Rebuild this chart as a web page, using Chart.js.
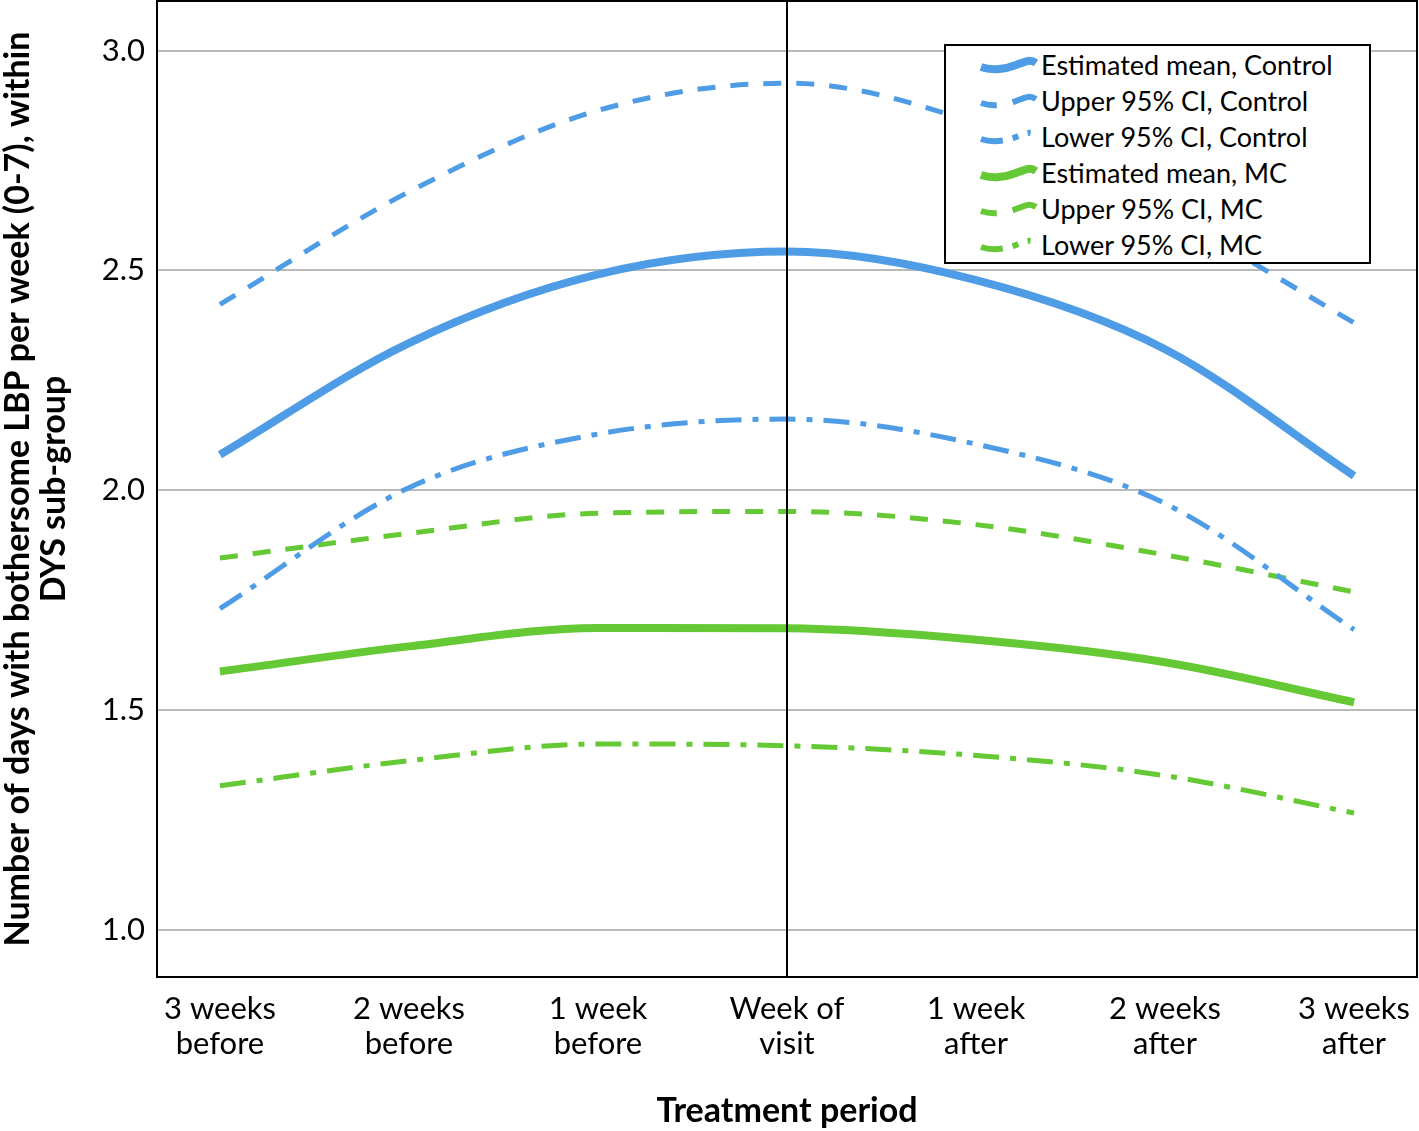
<!DOCTYPE html>
<html>
<head>
<meta charset="utf-8">
<script src="https://cdn.jsdelivr.net/npm/chart.js@4.4.1/dist/chart.umd.min.js"></script>
<style>
    html, body { margin: 0; padding: 0; background: #fff; }
    #wrap { position: relative; width: 1419px; height: 1131px; }
    #legend {
        position: absolute; left: 944px; top: 44px; width: 423px; height: 216px;
        border: 2px solid #000; background: #fff;
        font-family: Lato, "Open Sans", sans-serif; font-size: 27px; color: #000;
    }
    .legend-row { position: absolute; left: 0; height: 36px; display: flex; align-items: center; }
    .legend-row svg { margin-left: 32px; width: 62px; height: 24px; }
    .legend-row span { margin-left: 1px; white-space: nowrap; }
</style>
</head>
<body>
<div id="wrap">
    <canvas id="chart" width="1419" height="1131"></canvas>
    <div id="legend"></div>
</div>
<script>
// ---- data ----
const categories = [
    ['3 weeks', 'before'], ['2 weeks', 'before'], ['1 week', 'before'],
    ['Week of', 'visit'], ['1 week', 'after'], ['2 weeks', 'after'], ['3 weeks', 'after']
];
const yTicks = [1.0, 1.5, 2.0, 2.5, 3.0];
const visitIndex = 3;

const controlMean  = [2.081, 2.335, 2.491, 2.543, 2.478, 2.321, 2.033];
const controlUpper = [2.423, 2.679, 2.864, 2.926, 2.834, 2.631, 2.381];
const controlLower = [1.731, 2.006, 2.128, 2.162, 2.105, 1.970, 1.683];
const mcMean  = [1.588, 1.645, 1.687, 1.686, 1.660, 1.609, 1.518];
const mcUpper = [1.846, 1.902, 1.948, 1.952, 1.922, 1.853, 1.769];
const mcLower = [1.328, 1.385, 1.423, 1.419, 1.397, 1.351, 1.266];

const seriesLabels = [
    'Estimated mean, Control', 'Upper 95% CI, Control', 'Lower 95% CI, Control',
    'Estimated mean, MC', 'Upper 95% CI, MC', 'Lower 95% CI, MC'
];

const BLUE = '#4e9ce6';
const GREEN = '#64c934';
const DASH = [18, 15];
const DASHDOT = [26, 11, 6, 11];
const FONT = 'Lato, "Open Sans", sans-serif';

const toPoints = arr => arr.map((v, i) => ({ x: i, y: v }));

function makeSet(label, values, color, width, dash) {
    return {
        label: label,
        data: toPoints(values),
        borderColor: color,
        borderWidth: width,
        borderDash: dash,
        borderCapStyle: 'butt',
        pointRadius: 0,
        cubicInterpolationMode: 'monotone',
        fill: false
    };
}

const datasets = [
    makeSet(seriesLabels[0], controlMean, BLUE, 8, []),
    makeSet(seriesLabels[1], controlUpper, BLUE, 5, DASH),
    makeSet(seriesLabels[2], controlLower, BLUE, 5, DASHDOT),
    makeSet(seriesLabels[3], mcMean, GREEN, 8, []),
    makeSet(seriesLabels[4], mcUpper, GREEN, 5, DASH),
    makeSet(seriesLabels[5], mcLower, GREEN, 5, DASHDOT)
];

// frame round the plot + vertical line at the week of visit
const framePlugin = {
    id: 'frame',
    afterDatasetsDraw(chart) {
        const { ctx, chartArea, scales } = chart;
        const xv = scales.x.getPixelForValue(visitIndex);
        ctx.save();
        ctx.strokeStyle = '#000';
        ctx.lineWidth = 2;
        ctx.beginPath();
        ctx.moveTo(xv, chartArea.top);
        ctx.lineTo(xv, chartArea.bottom);
        ctx.stroke();
        ctx.strokeRect(chartArea.left, chartArea.top, chartArea.right - chartArea.left, chartArea.bottom - chartArea.top);
        ctx.restore();
    }
};

new Chart(document.getElementById('chart').getContext('2d'), {
    type: 'line',
    data: { datasets: datasets },
    options: {
        responsive: false,
        devicePixelRatio: 1,
        animation: false,
        layout: { padding: { top: 1, right: 2, left: 0, bottom: 0 } },
        plugins: { legend: { display: false }, tooltip: { enabled: false } },
        scales: {
            x: {
                type: 'linear',
                min: -0.333,
                max: 6.333,
                afterBuildTicks: axis => { axis.ticks = categories.map((c, i) => ({ value: i })); },
                afterFit: axis => {
                    axis.height = 154;
                    axis.paddingLeft = 0;
                    axis.paddingRight = 0;
                },
                grid: { display: false, drawTicks: false },
                border: { display: false },
                ticks: {
                    color: '#000',
                    font: { family: FONT, size: 31, lineHeight: 1.12 },
                    padding: 15,
                    maxRotation: 0,
                    autoSkip: false,
                    callback: v => categories[v]
                },
                title: {
                    display: true,
                    text: 'Treatment period',
                    color: '#000',
                    font: { family: FONT, size: 34, weight: 'bold' },
                    padding: { top: 0, bottom: 0 }
                }
            },
            y: {
                min: 0.893,
                max: 3.113,
                afterBuildTicks: axis => { axis.ticks = yTicks.map(v => ({ value: v })); },
                afterFit: axis => {
                    axis.width = 157;
                    axis.paddingTop = 0;
                    axis.paddingBottom = 0;
                },
                grid: { color: '#b9b9b9', lineWidth: 2, drawTicks: false },
                border: { display: false },
                ticks: {
                    color: '#000',
                    font: { family: FONT, size: 31 },
                    padding: 12,
                    callback: v => v.toFixed(1)
                },
                title: {
                    display: true,
                    text: ['Number of days with bothersome LBP per week (0-7), within', 'DYS sub-group'],
                    color: '#000',
                    font: { family: FONT, size: 34, weight: 'bold', lineHeight: 1.05 },
                    padding: { top: 0, bottom: 0 }
                }
            }
        }
    },
    plugins: [framePlugin]
});

// legend drawn over the plot, as in the original
const legendStyles = [
    { color: BLUE, width: 8, dash: '' },
    { color: BLUE, width: 6, dash: '16 16 40' },
    { color: BLUE, width: 6, dash: '22 10 6 10 3 40' },
    { color: GREEN, width: 8, dash: '' },
    { color: GREEN, width: 6, dash: '16 16 40' },
    { color: GREEN, width: 6, dash: '22 10 6 10 3 40' }
];
const legendBox = document.getElementById('legend');
seriesLabels.forEach((label, i) => {
    const st = legendStyles[i];
    const row = document.createElement('div');
    row.className = 'legend-row';
    row.style.top = (i * 36) + 'px';
    row.innerHTML = `
        <svg viewBox="0 0 62 24">
            <path d="M3 15 C 14 19, 28 17, 38 13 S 52 7, 58 11" fill="none"
                  stroke="${st.color}" stroke-width="${st.width}" stroke-dasharray="${st.dash}"/>
        </svg>
        <span>${label}</span>`;
    legendBox.appendChild(row);
});
</script>
</body>
</html>
